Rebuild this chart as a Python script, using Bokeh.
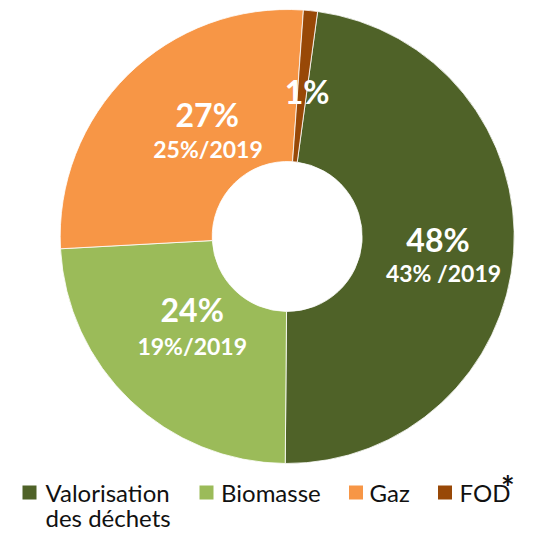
import numpy as np
from bokeh.plotting import figure
from bokeh.models import Range1d, ColumnDataSource
from bokeh.core.properties import value
from bokeh.embed import file_html
from bokeh.resources import INLINE

# ---- data ----
categories = ["Valorisation des déchets", "Biomasse", "Gaz", "FOD"]
shares = [48, 24, 27, 1]
labels_2020 = ["48%", "24%", "27%", "1%"]
labels_2019 = ["43% /2019", "19%/2019", "25%/2019", ""]
colors = ["#4F6228", "#9BBB59", "#F79646", "#984807"]

W, H = 533, 535
H_REF = 535  # reference picture height (y flip)
TXT_DY = 8   # baseline correction for text rendering

def Y(y):
    return H_REF - y

def YT(y):
    return H_REF - y + TXT_DY

p = figure(width=W, height=H, output_backend="svg", toolbar_location=None,
           x_range=Range1d(0, W), y_range=Range1d(0, H),
           min_border=0, outline_line_color=None)
p.axis.visible = False
p.grid.visible = False
p.background_fill_color = "white"
p.border_fill_color = "white"

cx, cy = 286.7, Y(236)
r_out, r_in = 227, 75
start_deg = 90 - 7.7  # first slice starts 7.7 deg clockwise from top

vals = np.array(shares, dtype=float)
frac = vals / vals.sum()
cum = np.cumsum(frac)
prev = np.concatenate([[0], cum[:-1]])
starts = np.deg2rad(start_deg - prev * 360)
ends = np.deg2rad(start_deg - cum * 360)

src = ColumnDataSource(dict(start=starts, end=ends, color=colors, cat=categories))
p.annular_wedge(x=cx, y=cy, inner_radius=r_in, outer_radius=r_out,
                start_angle="start", end_angle="end", direction="clock",
                fill_color="color", line_color="white", line_width=0.8, source=src)

# ---- labels ----
font = value("Lato")
main_pos = [(437.5, 246.7), (191.7, 316.7), (206.7, 121.7), (306.7, 99)]
sub_pos = [(443, 280.7), (191.7, 353.3), (207.5, 156.7), (0, 0)]
p.text(x=[q[0] for q in main_pos], y=[YT(q[1]) for q in main_pos], text=labels_2020,
       text_font=font, text_font_style="bold", text_font_size="32px",
       text_color="white", text_align="center", text_baseline="alphabetic")
sub_idx = [i for i, t in enumerate(labels_2019) if t]
p.text(x=[sub_pos[i][0] for i in sub_idx], y=[YT(sub_pos[i][1]) for i in sub_idx],
       text=[labels_2019[i] for i in sub_idx],
       text_font=font, text_font_style="bold", text_font_size="23px",
       text_color="white", text_align="center", text_baseline="alphabetic")

# ---- legend ----
leg_sq_x = [29, 206, 355.5, 444.5]
leg_txt_x = [45, 220.5, 369, 459]
leg_y_center = 492
p.rect(x=leg_sq_x, y=[Y(leg_y_center)] * 4, width=14, height=14,
       fill_color=colors, line_color=None)
leg_lines = ["Valorisation", "Biomasse", "Gaz", "FOD"]
p.text(x=leg_txt_x, y=[YT(500)] * 4, text=leg_lines, text_font=font,
       text_font_size="24px", text_color="#111111", text_align="left",
       text_baseline="alphabetic")
p.text(x=[45], y=[YT(525)], text=["des déchets"], text_font=font,
       text_font_size="24px", text_color="#111111", text_align="left",
       text_baseline="alphabetic")
p.text(x=[500.5], y=[YT(494.5)], text=["*"], text_font=font, text_font_style="bold",
       text_font_size="32px", text_color="#111111", text_align="left",
       text_baseline="alphabetic")

open("out.html", "w").write(file_html(p, INLINE))
